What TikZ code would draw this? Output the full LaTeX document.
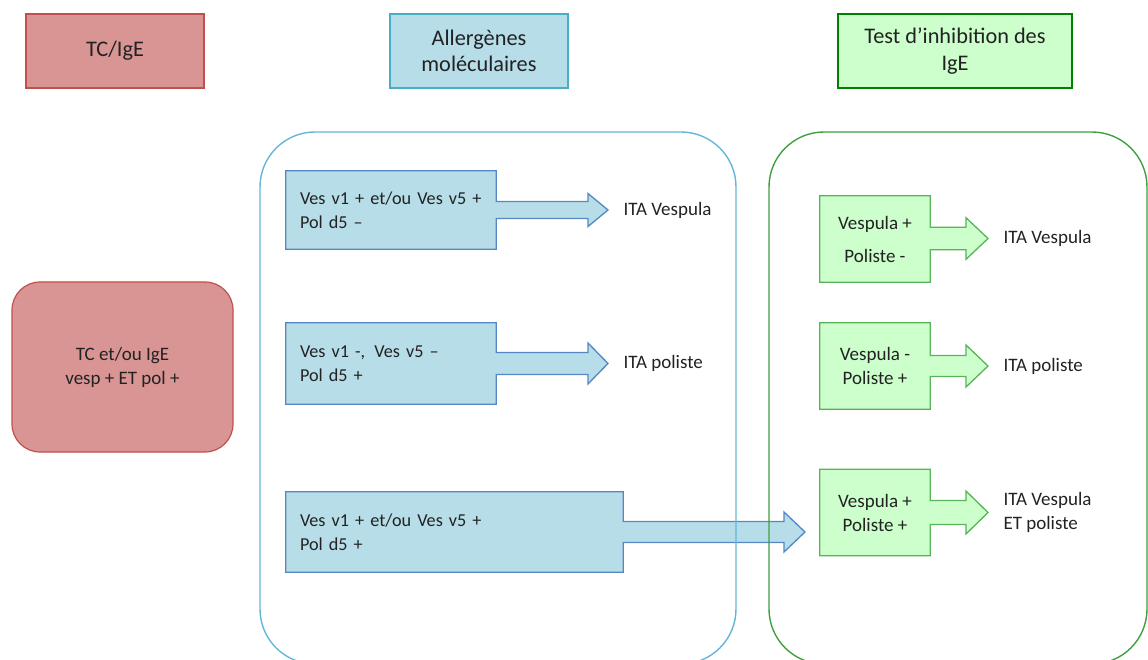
\documentclass[tikz,border=0pt]{standalone}
\usepackage{fontspec}
\setmainfont{Carlito}
\usetikzlibrary{calc,backgrounds}

\definecolor{txt}{RGB}{34,34,34}
\definecolor{redfill}{RGB}{217,149,148}
\definecolor{redline}{RGB}{192,80,77}
\definecolor{bluefill}{RGB}{183,221,232}
\definecolor{blueline}{RGB}{75,172,198}
\definecolor{bluecall}{RGB}{84,135,196}
\definecolor{bluegroup}{RGB}{100,182,214}
\definecolor{greenfill}{RGB}{204,255,204}
\definecolor{greenline}{RGB}{0,128,0}
\definecolor{greencall}{RGB}{88,180,88}
\definecolor{greengroup}{RGB}{64,160,64}

\newcommand\bodyfont{\fontsize{19}{24}\selectfont}
\newcommand\boxfont{\fontsize{18.2}{24}\selectfont}
\newcommand\headfont{\fontsize{22.3}{26.5}\selectfont}

\tikzset{
  every node/.style={text=txt, font=\bodyfont},
  headbox/.style={draw, line width=2pt, minimum height=74pt, align=center, inner sep=0pt,
                  font=\headfont},
  bluebox/.style={minimum height=78pt, align=left, inner xsep=14pt, inner ysep=0pt, font=\boxfont},
  greenbox/.style={minimum width=110pt, minimum height=86pt, align=center, inner sep=0pt},
  bluearrow/.style={fill=bluefill, draw=bluecall, line width=1.3pt, line join=miter},
  greenarrow/.style={fill=greenfill, draw=greencall, line width=1.3pt, line join=miter},
  group/.style={draw, line width=1.4pt, rounded corners=55pt, inner sep=0pt},
  result/.style={anchor=west, align=left, xshift=12pt},
}

% rectangle with a broad arrow leaving its right side towards a tip
\newcommand\drawcallout[6]{%
  \path[#6] (#1.north west) -- (#1.north east)
    -- ($(#1.east |- #2)+(0pt,#3pt)$)
    -- ($(#2)+(-#5pt,#3pt)$)
    -- ($(#2)+(-#5pt,#4pt)$)
    -- (#2)
    -- ($(#2)+(-#5pt,-#4pt)$)
    -- ($(#2)+(-#5pt,-#3pt)$)
    -- ($(#1.east |- #2)+(0pt,-#3pt)$)
    -- (#1.south east) -- (#1.south west) -- cycle;}

\begin{document}
\begin{tikzpicture}[x=1pt, y=-1pt]
\useasboundingbox (0,0) rectangle (1148,660);
\clip (0,0) rectangle (1148,660);

% column headers
\node[headbox, draw=redline, fill=redfill, minimum width=178pt] (hTC) at (115,51) {TC/IgE};
\node[headbox, draw=blueline, fill=bluefill, minimum width=178pt, line width=1.8pt] (hAll) at (479,51) {Allergènes\\moléculaires};
\node[headbox, draw=greenline, fill=greenfill, minimum width=234pt, line width=2.5pt] (hTest) at (955,51) {Test d’inhibition des\\IgE};

% starting situation
\node[draw=redline, fill=redfill, line width=1.2pt, rounded corners=28pt,
      minimum width=221pt, minimum height=170pt, align=center, inner sep=0pt] (start) at (122.5,367)
      {TC et/ou IgE\\vesp + ET pol +};

% molecular allergens
\node[bluebox, text width=182pt] (b1) at (391,210) {\mbox{Ves v1 + et/ou Ves v5 +}\\Pol d5 –};
\node[bluebox, text width=182pt, minimum height=81pt] (b2) at (391,363.5) {Ves v1 -,\, Ves v5 –\\Pol d5 +};
\node[bluebox, text width=309pt, minimum height=80pt] (b3) at (454.5,532) {Ves v1 + et/ou Ves v5 +\\Pol d5 +};
\coordinate (t1) at (608,210);
\coordinate (t2) at (608,363.5);
\coordinate (t3) at (805,532);
\node[result] (r1) at (t1) {ITA Vespula};
\node[result] (r2) at (t2) {ITA poliste};

% IgE inhibition test
\node[greenbox] (g1) at (875,239) {Vespula +\\[9pt]Poliste -};
\node[greenbox] (g2) at (875,366) {Vespula -\\Poliste +};
\node[greenbox] (g3) at (875,512.5) {Vespula +\\Poliste +};
\coordinate (u1) at (988,238.5);
\coordinate (u2) at (988,366);
\coordinate (u3) at (988,512.5);
\node[result] (s1) at (u1) {ITA Vespula};
\node[result] (s2) at (u2) {ITA poliste};
\node[result] (s3) at (u3) {ITA Vespula\\ET poliste};

\begin{scope}[on background layer]
  \drawcallout{b1}{t1}{8.5}{16.5}{20}{bluearrow}
  \drawcallout{b2}{t2}{11}{20.5}{20}{bluearrow}
  \drawcallout{b3}{t3}{10.5}{20}{21}{bluearrow}
  \drawcallout{g1}{u1}{11.3}{20.8}{22}{greenarrow}
  \drawcallout{g2}{u2}{10.5}{21}{22}{greenarrow}
  \drawcallout{g3}{u3}{12}{21.5}{22}{greenarrow}
  % group frames
  \node[group, draw=bluegroup, minimum width=476pt, minimum height=532pt] (grpA) at (498,398) {};
  \node[group, draw=greengroup, minimum width=378pt, minimum height=532pt] (grpB) at (958,398) {};
\end{scope}
\end{tikzpicture}
\end{document}
